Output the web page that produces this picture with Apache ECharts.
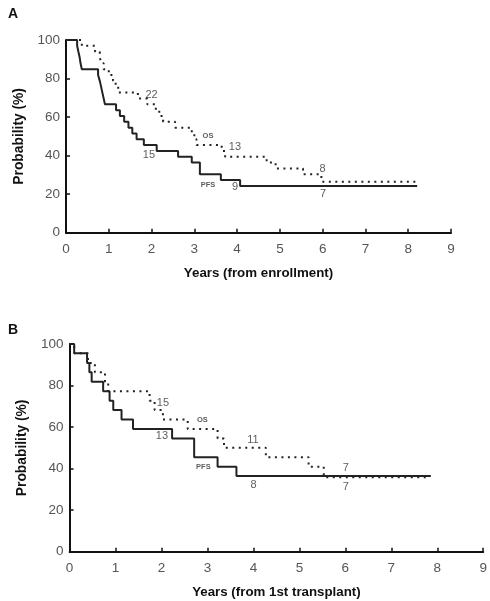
<!DOCTYPE html>
<html>
<head>
<meta charset="utf-8">
<script src="https://cdn.jsdelivr.net/npm/echarts@6/dist/echarts.min.js"></script>
<style>html,body{margin:0;padding:0;background:#fff;}#c{width:490px;height:601px;}</style>
</head>
<body>
<div id="c"></div>
<script>
// Panel A (from enrollment): [years, probability %]
var pfsA = [[0,100],[0.26,97],[0.29,93.9],[0.32,90.9],[0.34,87.9],[0.37,84.8],[0.75,81.8],[0.79,78.8],[0.82,75.8],[0.85,72.7],[0.88,69.7],[0.91,66.7],[1.17,63.6],[1.26,60.6],[1.36,57.6],[1.46,54.5],[1.55,51.5],[1.65,48.5],[1.82,45.5],[2.12,42.4],[2.62,39.4],[2.94,36.4],[3.13,30.3],[3.62,27.3],[4.07,24.2],[8.21,24.2]];
var osA = [[0,100],[0.37,97],[0.68,93.9],[0.79,90.9],[0.83,87.9],[0.88,84.8],[1.0,81.8],[1.1,78.8],[1.16,75.8],[1.22,72.7],[1.68,69.7],[1.9,66.7],[2.1,63.6],[2.18,60.6],[2.27,57.6],[2.55,54.5],[2.94,51.5],[3.0,48.5],[3.05,45.5],[3.64,42.4],[3.72,39.4],[4.69,36.4],[4.9,33.3],[5.54,30.3],[5.97,26.5],[8.27,26.5]];
// Panel B (from 1st transplant)
var pfsB = [[0,100],[0.1,95.5],[0.38,90.9],[0.43,86.4],[0.48,81.8],[0.73,77.3],[0.87,72.7],[0.95,68.2],[1.13,63.6],[1.38,59.1],[2.23,54.5],[2.71,45.5],[3.22,40.9],[3.63,36.4],[7.86,36.4]];
var osB = [[0,100],[0.1,95.5],[0.4,90.9],[0.55,86.4],[0.77,81.8],[0.84,77.3],[1.74,72.7],[1.85,68.2],[2.03,63.6],[2.57,59.1],[3.22,54.5],[3.36,50],[4.27,45.5],[5.2,40.9],[5.53,35.8],[7.8,35.8]];
// annotations: [years, probability, text]
var notesA = [[2.0,71.6,'22'],[3.95,44.7,'13'],[1.94,40.4,'15'],[3.95,23.6,'9'],[6.0,33.1,'8'],[6.01,20,'7']];
var tagsA = [[3.32,50.3,'OS'],[3.32,24.8,'PFS']];
var notesB = [[2.03,71.7,'15'],[2.01,55.7,'13'],[3.99,53.8,'11'],[6.01,40.2,'7'],[6.01,31.3,'7'],[4.0,32.1,'8']];
var tagsB = [[2.89,63.4,'OS'],[2.91,40.6,'PFS']];
var xTicks = [0,1,2,3,4,5,6,7,8,9];
var yTicks = [0,20,40,60,80,100];
var panelTitles = ['A','B'];
var xNames = ['Years (from enrollment)','Years (from 1st transplant)'];
var yName = 'Probability (%)';

var chart = echarts.init(document.getElementById('c'), null, {renderer:'canvas'});
var FONT = 'Liberation Sans, Arial, sans-serif';
function xAxis(i){
  return {type:'value', gridIndex:i, min:xTicks[0], max:xTicks[xTicks.length-1], interval:1,
    name:xNames[i], nameLocation:'middle', nameGap:34,
    nameTextStyle:{fontFamily:FONT,fontWeight:'bold',fontSize:13.3,color:'#111'},
    axisLine:{lineStyle:{color:'#111',width:2}},
    axisTick:{inside:true,length:4,lineStyle:{color:'#111',width:1.5}},
    axisLabel:{fontFamily:FONT,fontSize:13.5,color:'#555',margin:10},
    splitLine:{show:false}};
}
function yAxis(i){
  return {type:'value', gridIndex:i, min:yTicks[0], max:yTicks[yTicks.length-1], interval:20,
    name:yName, nameLocation:'middle', nameGap: i===0?37:40, nameRotate:90,
    nameTextStyle:{fontFamily:FONT,fontWeight:'bold',fontSize:13.8,color:'#111'},
    axisLine:{show:true,lineStyle:{color:'#111',width:2}},
    axisTick:{show:true,inside:true,length:4,lineStyle:{color:'#111',width:1.5}},
    axisLabel:{fontFamily:FONT,fontSize:13.5,color:'#555',margin:6},
    splitLine:{show:false}};
}
function km(data,i,dotted){
  return {type:'line', xAxisIndex:i, yAxisIndex:i, step:'end', data:data, symbol:'none', silent:true,
    lineStyle:{color:'#222', width:2, type: dotted?[2,4.5]:'solid'}, z: dotted?3:2};
}
function notes(arr,i,size,bold){
  return {type:'scatter', xAxisIndex:i, yAxisIndex:i, symbolSize:0, silent:true,
    data: arr.map(function(a){return {value:[a[0],a[1]], name:a[2]};}),
    label:{show:true, position:'inside', formatter:function(p){return p.name;},
      fontFamily:FONT, fontSize:size, fontWeight: bold?'bold':'normal', color:'#333'}};
}
chart.setOption({
  backgroundColor:'#fff',
  animation:false,
  title:[
    {text:panelTitles[0], left:3, top:2, textStyle:{fontFamily:FONT,fontWeight:'bold',fontSize:14,color:'#111'}},
    {text:panelTitles[1], left:3, top:318, textStyle:{fontFamily:FONT,fontWeight:'bold',fontSize:14,color:'#111'}}
  ],
  grid:[
    {left:66, right:39, top:40, height:192.7},
    {left:69.6, right:4, top:344, height:207.7}
  ],
  xAxis:[xAxis(0),xAxis(1)],
  yAxis:[yAxis(0),yAxis(1)],
  series:[
    km(pfsA,0,false), km(osA,0,true), km(pfsB,1,false), km(osB,1,true),
    notes(notesA,0,11,false), notes(tagsA,0,7.5,true),
    notes(notesB,1,11,false), notes(tagsB,1,7.5,true)
  ]
});
</script>
</body>
</html>
